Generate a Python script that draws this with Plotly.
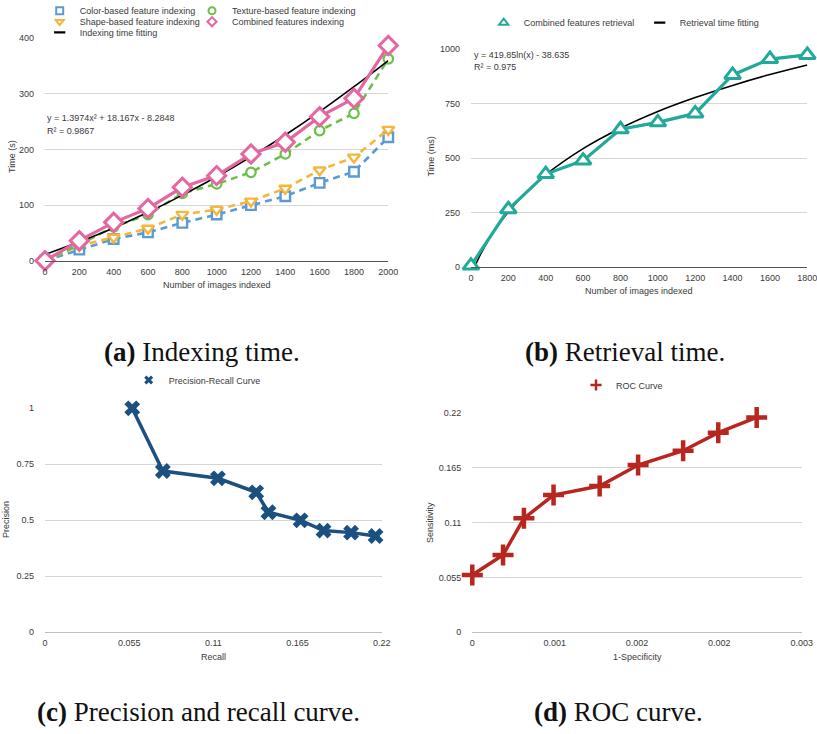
import plotly.graph_objects as go

W, H = 817, 734

# ---------------- data ----------------
images_a = [0, 200, 400, 600, 800, 1000, 1200, 1400, 1600, 1800, 2000]
color_time = [0, 20, 39, 51, 68, 83, 100, 116, 140, 160, 222]
shape_time = [0, 27, 42, 58, 83, 92, 107, 130, 163, 186, 236]
texture_time = [0, 29, 61, 83, 121, 138, 159, 192, 234, 265, 363]
combined_time = [0, 36, 69, 94, 132, 153, 192, 213, 259, 292, 387]
fit_time = [11, 34, 59, 87, 118, 151, 187, 226, 268, 313, 360]

images_b = [0, 200, 400, 600, 800, 1000, 1200, 1400, 1600, 1800]
retrieval_ms = [5, 264, 426, 488, 632, 664, 705, 882, 955, 974]
fit_b_images = [20, 50, 100, 150, 200, 300, 400, 600, 800, 1000, 1200, 1400, 1600, 1800]
fit_b_ms = [0, 55, 132, 196, 252, 346, 423, 543, 637, 714, 778, 834, 884, 928]

recall = [0.057, 0.077, 0.113, 0.138, 0.146, 0.167, 0.182, 0.200, 0.216]
precision = [1.0, 0.72, 0.6875, 0.625, 0.536, 0.5, 0.454, 0.445, 0.43]

one_minus_spec = [0, 0.00028, 0.00047, 0.00074, 0.00116, 0.00151, 0.00192, 0.00224, 0.00259]
sensitivity = [0.0574, 0.0775, 0.1142, 0.1375, 0.1466, 0.1676, 0.1819, 0.2, 0.2153]

ticks_a_x = [0, 200, 400, 600, 800, 1000, 1200, 1400, 1600, 1800, 2000]
ticks_a_y = [0, 100, 200, 300, 400]
ticks_b_x = [0, 200, 400, 600, 800, 1000, 1200, 1400, 1600, 1800]
ticks_b_y = [0, 250, 500, 750, 1000]
ticks_c_x = [0, 0.055, 0.11, 0.165, 0.22]
ticks_c_x_text = ["0", "0.055", "0.11", "0.165", "0.22"]
ticks_c_y = [0, 0.25, 0.5, 0.75, 1]
ticks_c_y_text = ["0", "0.25", "0.5", "0.75", "1"]
ticks_d_x = [0, 0.00075, 0.0015, 0.00225, 0.003]
ticks_d_x_text = ["0", "0.001", "0.002", "0.002", "0.003"]
ticks_d_y = [0, 0.055, 0.11, 0.165, 0.22]
ticks_d_y_text = ["0", "0.055", "0.11", "0.165", "0.22"]

# ---------------- styling ----------------
FONT = "Liberation Sans"
TXT = "#3a3a3a"
GRID = "#d6d6d6"
BLUE = "#5b9bd5"
ORANGE = "#f6b53b"
GREEN = "#6cc04a"
PINK = "#e5679f"
TEAL = "#22a999"
NAVY = "#1b5081"
RED = "#b7261f"


def px(x, y):
    return x / W, 1 - y / H


def dom_x(a, b):
    return [a / W, b / W]


def dom_y(top, bottom):
    return [1 - bottom / H, 1 - top / H]


fig = go.Figure()


def proxy(name, axes, legend, marker):
    fig.add_trace(go.Scatter(
        x=[None], y=[None], mode="markers", xaxis=axes[0], yaxis=axes[1], name=name,
        marker=marker, legend=legend, showlegend=True, hoverinfo="skip"))


# ---- (a) indexing time ----
def add_a(y, color, symbol, size, dash, width, lw, name, legend):
    fig.add_trace(go.Scatter(
        x=images_a, y=y, mode="lines+markers", xaxis="x", yaxis="y",
        line=dict(color=color, width=width, dash=dash),
        marker=dict(symbol=symbol, size=size, color="white", line=dict(color=color, width=lw)),
        showlegend=False, cliponaxis=False, name=name))
    proxy(name, ("x", "y"), legend,
          dict(symbol=symbol, size=7, color="white", line=dict(color=color, width=2)))

add_a(color_time, BLUE, "square", 9.5, "7px,5px", 2.6, 2.4, "Color-based feature indexing", "legend")
add_a(shape_time, ORANGE, "triangle-down", 10.5, "7px,5px", 2.6, 2.4, "Shape-based feature indexing", "legend2")
add_a(texture_time, GREEN, "circle", 9.5, "7px,5px", 2.6, 2.2, "Texture-based feature indexing", "legend3")
fig.add_trace(go.Scatter(
    x=images_a, y=fit_time, mode="lines", xaxis="x", yaxis="y", line=dict(color="black", width=1.6, shape="spline"),
    name="Indexing time fitting", showlegend=False, cliponaxis=False))
proxy("Indexing time fitting", ("x", "y"), "legend5",
      dict(symbol="line-ew", size=8, color="black", line=dict(color="black", width=2.2)))
add_a(combined_time, PINK, "diamond", 14, "solid", 3.2, 3, "Combined features indexing", "legend4")

# ---- (b) retrieval time ----
fig.add_trace(go.Scatter(
    x=fit_b_images, y=fit_b_ms, mode="lines", xaxis="x2", yaxis="y2",
    line=dict(color="black", width=1.6, shape="spline"), name="Retrieval time fitting", showlegend=False))
fig.add_trace(go.Scatter(
    x=images_b, y=retrieval_ms, mode="lines+markers", xaxis="x2", yaxis="y2",
    line=dict(color=TEAL, width=3.2),
    marker=dict(symbol="triangle-up", size=14, color="white", line=dict(color=TEAL, width=3)),
    showlegend=False, cliponaxis=False, name="Combined features retrieval"))
proxy("Combined features retrieval", ("x2", "y2"), "legend6",
      dict(symbol="triangle-up", size=8, color="white", line=dict(color=TEAL, width=2)))
proxy("Retrieval time fitting", ("x2", "y2"), "legend7",
      dict(symbol="line-ew", size=8, color="black", line=dict(color="black", width=2.2)))

# ---- (c) precision-recall ----
fig.add_trace(go.Scatter(
    x=recall, y=precision, mode="lines+markers", xaxis="x3", yaxis="y3",
    line=dict(color=NAVY, width=3.5),
    marker=dict(symbol="x", size=14, color=NAVY, line=dict(width=0)),
    showlegend=False, cliponaxis=False, name="Precision-Recall Curve"))
proxy("Precision-Recall Curve", ("x3", "y3"), "legend8",
      dict(symbol="x", size=8, color=NAVY, line=dict(width=0)))

# ---- (d) ROC ----
fig.add_trace(go.Scatter(
    x=one_minus_spec, y=sensitivity, mode="lines+markers", xaxis="x4", yaxis="y4",
    line=dict(color=RED, width=3.5),
    marker=dict(symbol="cross-thin", size=15, color=RED, line=dict(color=RED, width=4.5)),
    showlegend=False, cliponaxis=False, name="ROC Curve"))
proxy("ROC Curve", ("x4", "y4"), "legend9",
      dict(symbol="cross-thin", size=8, color=RED, line=dict(color=RED, width=2.5)))

tickfont = dict(family=FONT, size=9, color=TXT)


def xax(domain, anchor, rng, tv, tt=None, linecolor="#555555"):
    d = dict(domain=domain, anchor=anchor, range=rng, tickvals=tv, showgrid=False, zeroline=False,
             showline=True, linecolor=linecolor, linewidth=1, ticks="", tickfont=tickfont,
             ticklabelstandoff=2, ticklabeloverflow="allow", fixedrange=True, automargin=False)
    if tt is not None:
        d["ticktext"] = tt
    return d


def yax(domain, anchor, rng, tv, tt=None):
    d = dict(domain=domain, anchor=anchor, range=rng, tickvals=tv, showgrid=True, gridcolor=GRID,
             gridwidth=1, zeroline=False, showline=False, ticks="", tickfont=tickfont,
             ticklabelstandoff=10, ticklabeloverflow="allow", fixedrange=True, automargin=False)
    if tt is not None:
        d["ticktext"] = tt
    return d


legfont = dict(family=FONT, size=9, color=TXT)


def leg(textx, y):
    x, yy = px(textx - 38, y)
    return dict(x=x, y=yy, xanchor="left", yanchor="middle", orientation="h", font=legfont,
                bgcolor="rgba(0,0,0,0)", borderwidth=0, itemwidth=30)


annotations = []


def note(text, x, y, size=9, xanchor="center", angle=0, family=FONT, color=TXT):
    xx, yy = px(x, y)
    annotations.append(dict(text=text, x=xx, y=yy, xref="paper", yref="paper", showarrow=False,
                            xanchor=xanchor, yanchor="middle", textangle=angle,
                            font=dict(family=family, size=size, color=color)))


# axis titles
note("Time (s)", 12, 157, angle=-90)
note("Number of images indexed", 217, 285.5)
note("Time (ms)", 430.5, 157, angle=-90)
note("Number of images indexed", 639, 291)
note("Precision", 6, 520, angle=-90)
note("Recall", 214, 656.5)
note("Sensitivity", 430, 523, angle=-90)
note("1-Specificity", 637, 656.5)

# equations
note("y = 1.3974x² + 18.167x - 8.2848", 45, 118, xanchor="left")
note("R² = 0.9867", 45, 131, xanchor="left")
note("y = 419.85ln(x) - 38.635", 472, 55, xanchor="left")
note("R² = 0.975", 472, 67, xanchor="left")

# captions
CAP = "Liberation Serif"
note("<b>(a)</b> Indexing time.", 201.5, 352, size=27, family=CAP, color="#111")
note("<b>(b)</b> Retrieval time.", 624.5, 352, size=27, family=CAP, color="#111")
note("<b>(c)</b> Precision and recall curve.", 198.5, 712, size=27, family=CAP, color="#111")
note("<b>(d)</b> ROC curve.", 618.5, 712, size=27, family=CAP, color="#111")

fig.update_layout(
    width=W, height=H, margin=dict(l=0, r=0, t=0, b=0, pad=0, autoexpand=False),
    paper_bgcolor="white", plot_bgcolor="white",
    font=dict(family=FONT, size=9, color=TXT),
    xaxis=xax(dom_x(45, 388.3), "y", [0, 2000], ticks_a_x),
    yaxis=yax(dom_y(38.3, 260.7), "x", [0, 400], ticks_a_y),
    xaxis2=xax(dom_x(471, 807.3), "y2", [0, 1800], ticks_b_x),
    yaxis2=yax(dom_y(49.3, 266.7), "x2", [0, 1000], ticks_b_y),
    xaxis3=xax(dom_x(45, 381.7), "y3", [0, 0.22], ticks_c_x, ticks_c_x_text, linecolor="#bdbdbd"),
    yaxis3=yax(dom_y(408.3, 632.3), "x3", [0, 1], ticks_c_y, ticks_c_y_text),
    xaxis4=xax(dom_x(472.3, 801.7), "y4", [0, 0.003], ticks_d_x, ticks_d_x_text, linecolor="#bdbdbd"),
    yaxis4=yax(dom_y(412.7, 632.3), "x4", [0, 0.22], ticks_d_y, ticks_d_y_text),
    legend=leg(77.7, 10.7),
    legend2=leg(77.7, 21.7),
    legend3=leg(230, 10.7),
    legend4=leg(230, 21.7),
    legend5=leg(77.7, 32.3),
    legend6=leg(521.7, 22.7),
    legend7=leg(677.7, 22.7),
    legend8=leg(166.7, 380),
    legend9=leg(614, 385),
    annotations=annotations,
    showlegend=True,
)

fig.write_html("out.html", config={"displayModeBar": False},
               post_script="document.body.style.margin='0';document.body.style.padding='0';")
